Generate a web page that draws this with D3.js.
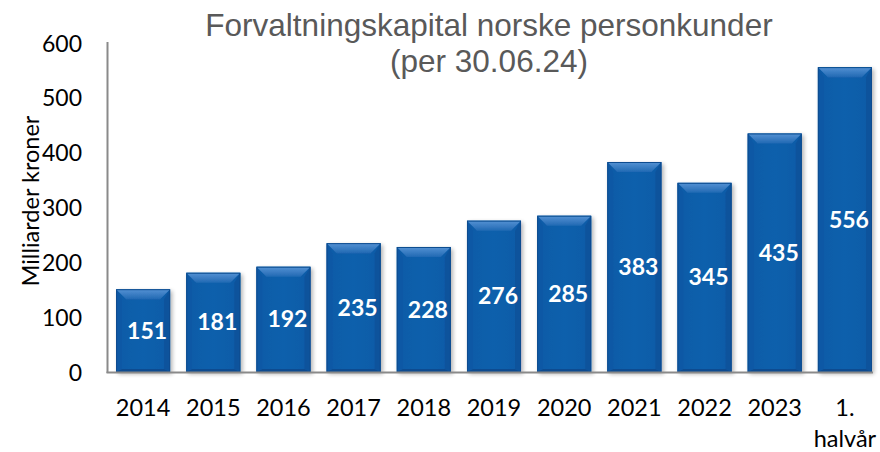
<!DOCTYPE html>
<html><head><meta charset="utf-8">
<script src="https://cdn.jsdelivr.net/npm/d3@7"></script>
<style>html,body{margin:0;padding:0;background:#fff}svg{display:block}</style>
</head><body>
<svg id="c" width="880" height="452"></svg>
<script>
const categories = ["2014","2015","2016","2017","2018","2019","2020","2021","2022","2023","1.\nhalvår"];
const values = [151,181,192,235,228,276,285,383,345,435,556];
const yTicks = [0,100,200,300,400,500,600];
const titleLines = ["Forvaltningskapital norske personkunder","(per 30.06.24)"];
const yTitle = "Milliarder kroner";

const svg = d3.select("#c");
const defs = svg.append("defs");
const x = d3.scaleBand().domain(categories).range([108,880]).paddingInner(0.23).paddingOuter(0.115);
const y = d3.scaleLinear().domain([0,600]).range([372,43]);

const gTop = defs.append("linearGradient").attr("id","gTop").attr("x1",0).attr("y1",0).attr("x2",0).attr("y2",1);
gTop.append("stop").attr("offset","0%").attr("stop-color","#5592d4");
gTop.append("stop").attr("offset","100%").attr("stop-color","#2169b3");
const gMain = defs.append("linearGradient").attr("id","gMain").attr("x1",0).attr("y1",0).attr("x2",1).attr("y2",0);
gMain.append("stop").attr("offset","0%").attr("stop-color","#0e5ba7");
gMain.append("stop").attr("offset","50%").attr("stop-color","#1060ac");
gMain.append("stop").attr("offset","100%").attr("stop-color","#0e5ba7");
const f = defs.append("filter").attr("id","sh").attr("x","-20%").attr("y","-20%").attr("width","140%").attr("height","140%");
f.append("feGaussianBlur").attr("in","SourceAlpha").attr("stdDeviation",2);
f.append("feOffset").attr("dx",2).attr("dy",2).attr("result","b");
f.append("feComponentTransfer").append("feFuncA").attr("type","linear").attr("slope",0.3);
const fm = f.append("feMerge"); fm.append("feMergeNode"); fm.append("feMergeNode").attr("in","SourceGraphic");

// title
svg.append("text").attr("x",489).attr("y",0).attr("text-anchor","middle")
  .attr("font-family","'Liberation Sans',Arial,sans-serif").attr("font-size",31.5).attr("fill","#595959")
  .selectAll("tspan").data(titleLines).join("tspan").attr("x",489).attr("y",(d,i)=>36+i*36).text(d=>d);

// y axis labels
const yAxis = d3.axisLeft(y).tickValues(yTicks).tickSize(0).tickPadding(0);
const ga = svg.append("g").attr("transform","translate(82,0)").call(yAxis);
ga.select(".domain").remove();
ga.selectAll("text").attr("font-family","Lato,'Open Sans',sans-serif").attr("font-size",23).attr("fill","#000").attr("dy","0.35em");

svg.append("text").attr("transform","translate(39,201) rotate(-90)").attr("text-anchor","middle")
  .attr("font-family","Lato,'Open Sans',sans-serif").attr("font-size",23.5).attr("fill","#000").text(yTitle);

// bars
const data = categories.map((c,i)=>({c, v: values[i]}));
const bw = x.bandwidth();
const b = 10;
const bars = svg.append("g").selectAll("g").data(data).join("g").attr("filter","url(#sh)");
bars.each(function(d){
  const g = d3.select(this);
  const x0 = x(d.c), y0 = y(d.v), h = y(0)-y(d.v), w = bw;
  g.append("rect").attr("x",x0).attr("y",y0).attr("width",w).attr("height",h).attr("fill","url(#gMain)");
  g.append("polygon").attr("points",[[x0,y0],[x0+6,y0+b],[x0+6,y0+h-3],[x0,y0+h]].join(" ")).attr("fill","#0d59a5");
  g.append("polygon").attr("points",[[x0+w,y0],[x0+w-6,y0+b],[x0+w-6,y0+h-3],[x0+w,y0+h]].join(" ")).attr("fill","#0b539c");
  g.append("polygon").attr("points",[[x0,y0+h],[x0+6,y0+h-3],[x0+w-6,y0+h-3],[x0+w,y0+h]].join(" ")).attr("fill","#0a4c90");
  g.append("polygon").attr("points",[[x0,y0],[x0+w,y0],[x0+w-b,y0+b],[x0+b,y0+b]].join(" ")).attr("fill","url(#gTop)");
  g.append("rect").attr("x",x0+0.5).attr("y",y0+0.5).attr("width",w-1).attr("height",h-1).attr("fill","none").attr("stroke","#0b4c8f").attr("stroke-width",1);
});

// value labels
svg.append("g").selectAll("text").data(data).join("text")
  .attr("x",d=>x(d.c)+bw/2+4).attr("y",d=>(y(d.v)+y(0))/2).attr("dy","0.35em").attr("text-anchor","middle")
  .attr("font-family","Lato,'Open Sans',sans-serif").attr("font-weight","bold").attr("font-size",23).attr("fill","#fff")
  .text(d=>d.v);

// axis lines
svg.append("line").attr("x1",107.5).attr("x2",107.5).attr("y1",42).attr("y2",373).attr("stroke","#8a8a8a").attr("stroke-width",2);
svg.append("line").attr("x1",106.5).attr("x2",873).attr("y1",372.5).attr("y2",372.5).attr("stroke","#8a8a8a").attr("stroke-width",2);

// x labels
const xl = svg.append("g").selectAll("text").data(data).join("text")
  .attr("text-anchor","middle").attr("font-family","Lato,'Open Sans',sans-serif").attr("font-size",23.5).attr("fill","#000");
xl.each(function(d){
  const parts = d.c.split("\n");
  d3.select(this).selectAll("tspan").data(parts).join("tspan")
    .attr("x",x(d.c)+bw/2).attr("y",(p,i)=>416+i*31).text(p=>p);
});
</script>
</body></html>
